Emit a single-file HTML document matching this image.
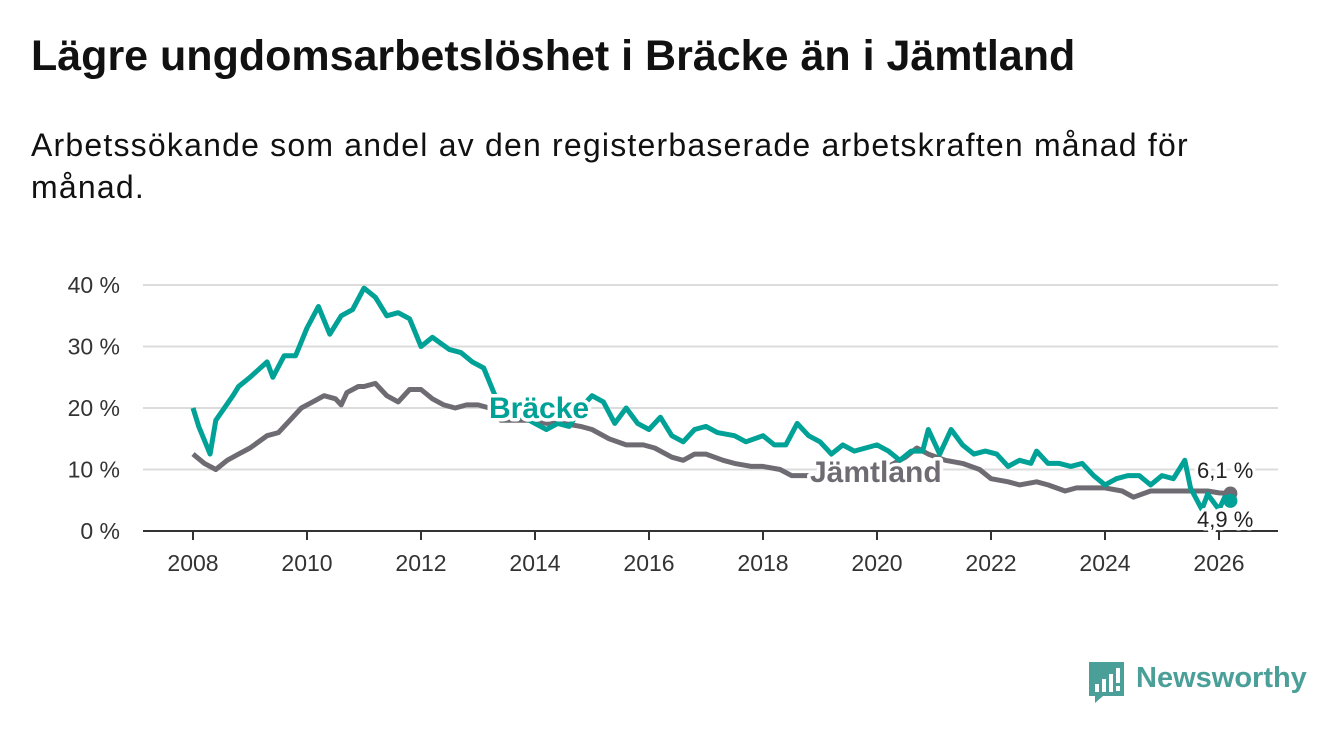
<!DOCTYPE html>
<html><head><meta charset="utf-8"><style>
body{margin:0;width:1340px;height:734px;background:#fff;font-family:"Liberation Sans",sans-serif;overflow:hidden;position:relative;color:#111}
h1{position:absolute;left:31px;top:32px;margin:0;font-size:43px;font-weight:bold;letter-spacing:0px;white-space:nowrap}
p{position:absolute;left:31px;top:124px;margin:0;font-size:32px;line-height:42px;width:1210px;letter-spacing:1.2px}
svg{position:absolute;left:0;top:0}
</style></head><body>
<h1>Lägre ungdomsarbetslöshet i Bräcke än i Jämtland</h1>
<p>Arbetssökande som andel av den registerbaserade arbetskraften månad för månad.</p>
<svg id="c" width="1340" height="734"></svg>
<script>
const yTicks=[0,10,20,30,40];
const xTicks=[2008,2010,2012,2014,2016,2018,2020,2022,2024,2026];
const brT=[2008.0,2008.1,2008.3,2008.4,2008.7,2008.8,2009.0,2009.3,2009.4,2009.6,2009.8,2010.0,2010.2,2010.4,2010.6,2010.8,2011.0,2011.2,2011.4,2011.6,2011.8,2012.0,2012.2,2012.5,2012.7,2012.9,2013.1,2013.3,2013.5,2013.8,2014.0,2014.2,2014.4,2014.6,2014.8,2015.0,2015.2,2015.4,2015.6,2015.8,2016.0,2016.2,2016.4,2016.6,2016.8,2017.0,2017.2,2017.5,2017.7,2018.0,2018.2,2018.4,2018.6,2018.8,2019.0,2019.2,2019.4,2019.6,2019.8,2020.0,2020.2,2020.4,2020.6,2020.8,2020.9,2021.1,2021.3,2021.5,2021.7,2021.9,2022.1,2022.3,2022.5,2022.7,2022.8,2023.0,2023.2,2023.4,2023.6,2023.8,2024.0,2024.2,2024.4,2024.6,2024.8,2025.0,2025.2,2025.4,2025.5,2025.7,2025.8,2026.0,2026.1,2026.2];
const brV=[20,17,12.5,18,22,23.5,25,27.5,25,28.5,28.5,33,36.5,32,35,36,39.5,38,35,35.5,34.5,30,31.5,29.5,29,27.5,26.5,22,19,18.5,17.5,16.5,17.5,17,20,22,21,17.5,20,17.5,16.5,18.5,15.5,14.5,16.5,17,16,15.5,14.5,15.5,14,14,17.5,15.5,14.5,12.5,14,13,13.5,14,13,11.5,13,13,16.5,12.5,16.5,14,12.5,13,12.5,10.5,11.5,11,13,11,11,10.5,11,9,7.5,8.5,9,9,7.5,9,8.5,11.5,7,3.5,6,3.5,5.5,4.9];
const jmT=[2008.0,2008.2,2008.4,2008.6,2008.8,2009.0,2009.3,2009.5,2009.7,2009.9,2010.1,2010.3,2010.5,2010.6,2010.7,2010.9,2011.0,2011.2,2011.4,2011.6,2011.8,2012.0,2012.2,2012.4,2012.6,2012.8,2013.0,2013.2,2013.4,2013.7,2014.0,2014.2,2014.5,2014.8,2015.0,2015.3,2015.6,2015.9,2016.1,2016.4,2016.6,2016.8,2017.0,2017.3,2017.5,2017.8,2018.0,2018.3,2018.5,2018.8,2019.0,2019.3,2019.6,2019.9,2020.2,2020.5,2020.7,2020.9,2021.2,2021.5,2021.8,2022.0,2022.3,2022.5,2022.8,2023.0,2023.3,2023.5,2023.8,2024.0,2024.3,2024.5,2024.8,2025.0,2025.3,2025.5,2025.8,2026.0,2026.2];
const jmV=[12.5,11,10,11.5,12.5,13.5,15.5,16,18,20,21,22,21.5,20.5,22.5,23.5,23.5,24,22,21,23,23,21.5,20.5,20,20.5,20.5,20,18,18,18,17.5,17.5,17,16.5,15,14,14,13.5,12,11.5,12.5,12.5,11.5,11,10.5,10.5,10,9,9,9,8.5,9,9.5,10.5,12,13.5,12.5,11.5,11,10,8.5,8,7.5,8,7.5,6.5,7,7,7,6.5,5.5,6.5,6.5,6.5,6.5,6.5,6.2,6.1];
const NS="http://www.w3.org/2000/svg",svg=document.getElementById('c');
const X=t=>193+(t-2008)*57, Y=v=>531-v*6.15;
function mk(tag,a,txt){const e=document.createElementNS(NS,tag);for(const k in a)e.setAttribute(k,a[k]);if(txt!=null)e.textContent=txt;svg.appendChild(e);return e;}
yTicks.forEach(v=>{
 if(v>0){const g=mk('line',{x1:143,x2:1278,y1:Y(v),y2:Y(v),stroke:'#dcdcdc','stroke-width':2});
 
 }
 const t=mk('text',{x:120,y:Y(v)+8,'text-anchor':'end','font-size':23,fill:'#333'},v+' %');
 
 
});
const ax=mk('line',{x1:143,x2:1278,y1:531,y2:531,stroke:'#333','stroke-width':2});


xTicks.forEach(v=>{
 mk('line',{x1:X(v),x2:X(v),y1:531,y2:540,stroke:'#333','stroke-width':2});
 const t=mk('text',{x:X(v),y:571,'text-anchor':'middle','font-size':23,fill:'#333'},String(v));
 
 
});
function line(T,V,col,name){
 const d=T.map((t,i)=>(i?'L':'M')+X(t).toFixed(1)+','+Y(V[i]).toFixed(1)).join('');
 const p=mk('path',{d:d,fill:'none',stroke:col,'stroke-width':5,'stroke-linejoin':'round'});
 
 
 const c=mk('circle',{cx:X(T[T.length-1]),cy:Y(V[V.length-1]),r:7,fill:col});
 
 
}
line(jmT,jmV,'#6e6c72','jamtland-line');
line(brT,brV,'#00a196','bracke-line');
function lab(x,y,txt,col,size,w,name){
 const t=mk('text',{x:x,y:y,'font-size':size,'font-weight':w,fill:col,stroke:'#fff','stroke-width':7,'paint-order':'stroke','stroke-linejoin':'round'},txt);
 
 
}
lab(489,418,'Bräcke','#00a196',30,'bold','bracke-label');
lab(810,482,'Jämtland','#6e6c72',30,'bold','jamtland-label');
lab(1197,478,'6,1 %','#222',22,'normal','jamtland-end-value');
lab(1197,527,'4,9 %','#222',22,'normal','bracke-end-value');
</script>
<div style="position:absolute;left:1089px;top:662px;width:220px;height:44px">
<svg width="36" height="42" style="position:absolute;left:0;top:0"><path d="M0 0H35V34H14L6 41V34H0Z" fill="#4a9f98"/><rect x="6" y="22" width="4" height="8" fill="#fff"/><rect x="13" y="17" width="4" height="13" fill="#fff"/><rect x="20" y="12" width="4" height="18" fill="#fff"/><rect x="27" y="6" width="4" height="15" fill="#fff"/><rect x="27" y="24" width="4" height="5" fill="#fff"/></svg>
<span style="position:absolute;left:47px;top:0px;font-size:29px;font-weight:bold;color:#4a9f98">Newsworthy</span>
</div>
</body></html>
